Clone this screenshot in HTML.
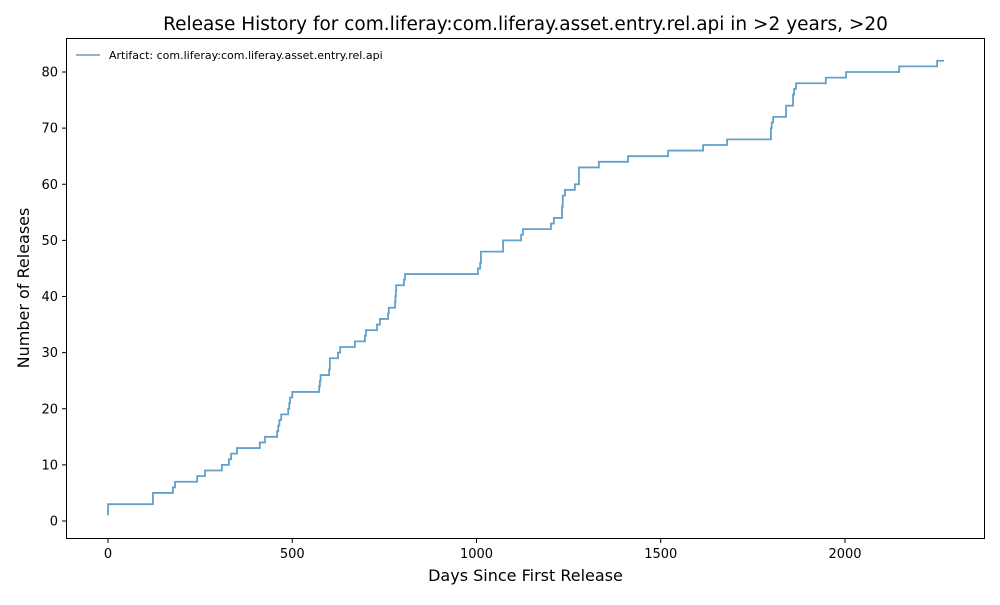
<!DOCTYPE html>
<html><head><meta charset="utf-8"><style>
body{margin:0;background:#fff;}
svg text{font-family:"DejaVu Sans","Liberation Sans",sans-serif;fill:#000;}
</style></head><body>
<svg id="chart" width="1000" height="600" viewBox="0 0 1000 600" xmlns="http://www.w3.org/2000/svg">
<rect width="1000" height="600" fill="#fff"/>
<text x="525.5" y="30" font-size="18.5" text-anchor="middle">Release History for com.liferay:com.liferay.asset.entry.rel.api in &gt;2 years, &gt;20</text>
<g id="plot"></g>
<rect x="66.5" y="38.5" width="918" height="500" fill="none" stroke="#000" stroke-width="1"/>
<text x="525.5" y="581" font-size="16" text-anchor="middle">Days Since First Release</text>
<text transform="translate(29,288) rotate(-90)" font-size="16" text-anchor="middle">Number of Releases</text>
<g>
<line x1="76" y1="55" x2="100" y2="55" stroke="#1f77b4" stroke-opacity="0.7" stroke-width="1.5"/>
<text x="109" y="59" font-size="11">Artifact: com.liferay:com.liferay.asset.entry.rel.api</text>
</g>
</svg>
<script>
const days = [0,0,122,176,182,242,263,309,328,334,350,412,426,459,462,465,470,489,492,494,500,573,575,577,600,602,624,630,670,697,700,730,738,760,762,779,780,781,782,803,806,1004,1010,1012,1072,1121,1126,1202,1210,1232,1234,1240,1267,1278,1332,1411,1520,1615,1680,1799,1801,1805,1840,1859,1862,1867,1948,2003,2147,2250,2269];
const releases = [1,3,5,6,7,8,9,10,11,12,13,14,15,16,17,18,19,20,21,22,23,24,25,26,27,29,30,31,32,33,34,35,36,37,38,39,40,41,42,43,44,45,46,48,50,51,52,53,54,56,58,59,60,63,64,65,66,67,68,70,71,72,74,76,77,78,79,80,81,82,82];
const xTicks = [0,500,1000,1500,2000];
const yTicks = [0,10,20,30,40,50,60,70,80];
const NS="http://www.w3.org/2000/svg";
const xs = d => 108 + d*0.3685;
const ys = v => 521 - v*5.6125;
const g = document.getElementById('plot');
function mk(tag, attrs){const e=document.createElementNS(NS,tag);for(const k in attrs)e.setAttribute(k,attrs[k]);return e;}
xTicks.forEach(t=>{
  const x=xs(t);
  const l=mk('line',{x1:x,y1:538.5,x2:x,y2:543,stroke:'#000'});
  
  
  g.appendChild(l);
  const tx=mk('text',{x:x,y:558,'font-size':'13','text-anchor':'middle'});
  
  
  tx.textContent=t;g.appendChild(tx);
});
yTicks.forEach(t=>{
  const y=ys(t);
  const l=mk('line',{x1:62,y1:y,x2:66.5,y2:y,stroke:'#000'});
  
  
  g.appendChild(l);
  const tx=mk('text',{x:58,y:y+4.5,'font-size':'13','text-anchor':'end'});
  
  
  tx.textContent=t;g.appendChild(tx);
});
let d='M'+xs(days[0])+','+ys(releases[0]);
for(let i=1;i<days.length;i++){d+=' H'+xs(days[i])+' V'+ys(releases[i]);}
const p=mk('path',{d:d,fill:'none',stroke:'#1f77b4','stroke-opacity':'0.7','stroke-width':'1.8'});


g.appendChild(p);
</script>
</body></html>
